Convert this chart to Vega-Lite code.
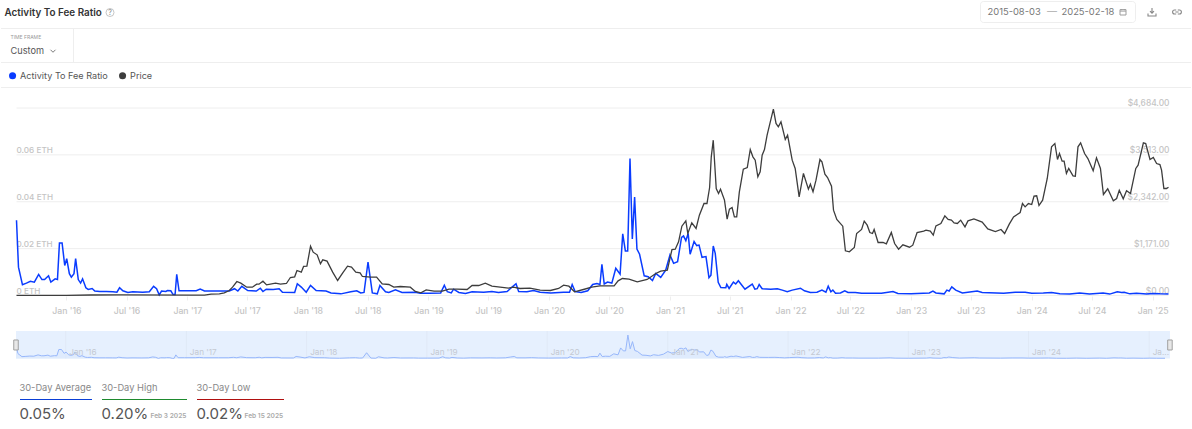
{
"$schema":"https://vega.github.io/schema/vega-lite/v6.json",
"padding":0,"background":"white","autosize":{"type":"pad"},"bounds":"flush","spacing":0,
"config":{"view":{"stroke":null},"text":{"font":"Inter"},"axis":{"labelFont":"Inter"},"legend":{"labelFont":"Inter"}},
"datasets":{
"ratio":[
{"d":"2015-08-03","v":0.0321},{"d":"2015-08-09","v":0.0121},{"d":"2015-08-21","v":0.0046},{"d":"2015-09-02","v":0.0053},{"d":"2015-09-14","v":0.0061},{"d":"2015-09-26","v":0.0057},{"d":"2015-10-09","v":0.009},{"d":"2015-10-19","v":0.0068},{"d":"2015-10-27","v":0.0068},{"d":"2015-11-08","v":0.0084},{"d":"2015-11-15","v":0.0057},{"d":"2015-11-28","v":0.0071},{"d":"2015-12-05","v":0.0068},{"d":"2015-12-11","v":0.0224},{"d":"2015-12-19","v":0.0224},{"d":"2015-12-27","v":0.0128},{"d":"2016-01-02","v":0.0157},{"d":"2016-01-10","v":0.0093},{"d":"2016-01-16","v":0.0078},{"d":"2016-01-24","v":0.0093},{"d":"2016-01-29","v":0.0157},{"d":"2016-02-06","v":0.0068},{"d":"2016-02-13","v":0.0053},{"d":"2016-02-19","v":0.0071},{"d":"2016-02-29","v":0.0033},{"d":"2016-03-07","v":0.0026},{"d":"2016-03-19","v":0.003},{"d":"2016-03-27","v":0.0019},{"d":"2016-04-11","v":0.0017},{"d":"2016-05-01","v":0.0017},{"d":"2016-05-21","v":0.0016},{"d":"2016-06-02","v":0.0014},{"d":"2016-06-10","v":0.0033},{"d":"2016-06-20","v":0.002},{"d":"2016-07-05","v":0.0013},{"d":"2016-07-20","v":0.0016},{"d":"2016-08-19","v":0.0014},{"d":"2016-09-08","v":0.0016},{"d":"2016-09-21","v":0.0039},{"d":"2016-09-30","v":0.0029},{"d":"2016-10-08","v":0.0003},{"d":"2016-10-15","v":0.0019},{"d":"2016-10-28","v":0.0017},{"d":"2016-11-02","v":0.0021},{"d":"2016-11-12","v":0.002},{"d":"2016-11-19","v":0.0004},{"d":"2016-11-25","v":0.0004},{"d":"2016-11-30","v":0.009},{"d":"2016-12-07","v":0.002},{"d":"2016-12-27","v":0.002},{"d":"2017-01-28","v":0.002},{"d":"2017-02-09","v":0.0027},{"d":"2017-02-22","v":0.0019},{"d":"2017-04-08","v":0.0019},{"d":"2017-05-08","v":0.0019},{"d":"2017-05-24","v":0.0029},{"d":"2017-06-03","v":0.0019},{"d":"2017-06-15","v":0.0039},{"d":"2017-07-03","v":0.0021},{"d":"2017-07-29","v":0.0019},{"d":"2017-08-10","v":0.0031},{"d":"2017-08-18","v":0.0017},{"d":"2017-08-28","v":0.0027},{"d":"2017-09-18","v":0.0026},{"d":"2017-10-06","v":0.0029},{"d":"2017-10-16","v":0.0014},{"d":"2017-11-22","v":0.0013},{"d":"2017-11-30","v":0.005},{"d":"2017-12-12","v":0.0036},{"d":"2017-12-27","v":0.0014},{"d":"2018-01-09","v":0.0043},{"d":"2018-01-26","v":0.0021},{"d":"2018-02-25","v":0.0019},{"d":"2018-03-12","v":0.0011},{"d":"2018-04-11","v":0.0007},{"d":"2018-05-11","v":0.0016},{"d":"2018-05-29","v":0.002},{"d":"2018-06-10","v":0.0011},{"d":"2018-06-20","v":0.0013},{"d":"2018-07-02","v":0.0143},{"d":"2018-07-15","v":0.0011},{"d":"2018-07-30","v":0.0007},{"d":"2018-08-07","v":0.0043},{"d":"2018-08-24","v":0.0016},{"d":"2018-09-03","v":0.0013},{"d":"2018-09-23","v":0.0024},{"d":"2018-10-13","v":0.0013},{"d":"2018-11-22","v":0.0014},{"d":"2018-12-07","v":0.001},{"d":"2019-01-02","v":0.001},{"d":"2019-02-07","v":0.0011},{"d":"2019-02-18","v":0.0044},{"d":"2019-02-27","v":0.0016},{"d":"2019-03-11","v":0.0011},{"d":"2019-03-18","v":0.0027},{"d":"2019-04-03","v":0.0013},{"d":"2019-04-23","v":0.0009},{"d":"2019-05-13","v":0.0016},{"d":"2019-06-17","v":0.0014},{"d":"2019-07-12","v":0.0017},{"d":"2019-08-01","v":0.0013},{"d":"2019-08-27","v":0.0017},{"d":"2019-09-11","v":0.0036},{"d":"2019-09-23","v":0.005},{"d":"2019-10-01","v":0.0017},{"d":"2019-10-26","v":0.0016},{"d":"2019-11-15","v":0.0021},{"d":"2019-12-05","v":0.0014},{"d":"2020-01-06","v":0.0011},{"d":"2020-02-14","v":0.0014},{"d":"2020-03-03","v":0.0014},{"d":"2020-03-11","v":0.0047},{"d":"2020-03-20","v":0.0017},{"d":"2020-04-07","v":0.0013},{"d":"2020-04-27","v":0.002},{"d":"2020-05-12","v":0.0047},{"d":"2020-05-25","v":0.0051},{"d":"2020-06-03","v":0.0047},{"d":"2020-06-09","v":0.0133},{"d":"2020-06-16","v":0.0049},{"d":"2020-06-26","v":0.0057},{"d":"2020-07-09","v":0.0053},{"d":"2020-07-21","v":0.0116},{"d":"2020-08-03","v":0.0091},{"d":"2020-08-11","v":0.0263},{"d":"2020-08-19","v":0.019},{"d":"2020-08-26","v":0.019},{"d":"2020-09-02","v":0.0584},{"d":"2020-09-09","v":0.0241},{"d":"2020-09-16","v":0.042},{"d":"2020-09-23","v":0.0198},{"d":"2020-10-01","v":0.0176},{"d":"2020-10-15","v":0.0084},{"d":"2020-10-27","v":0.008},{"d":"2020-11-09","v":0.0064},{"d":"2020-11-19","v":0.0094},{"d":"2020-12-04","v":0.0077},{"d":"2020-12-19","v":0.0108},{"d":"2021-01-01","v":0.0173},{"d":"2021-01-12","v":0.0137},{"d":"2021-01-24","v":0.0144},{"d":"2021-02-05","v":0.0248},{"d":"2021-02-11","v":0.0254},{"d":"2021-02-18","v":0.0234},{"d":"2021-02-25","v":0.0265},{"d":"2021-03-03","v":0.0176},{"d":"2021-03-15","v":0.023},{"d":"2021-03-23","v":0.0213},{"d":"2021-03-30","v":0.0215},{"d":"2021-04-08","v":0.0163},{"d":"2021-04-20","v":0.0166},{"d":"2021-04-29","v":0.0076},{"d":"2021-05-05","v":0.0087},{"d":"2021-05-12","v":0.0211},{"d":"2021-05-18","v":0.018},{"d":"2021-05-27","v":0.0056},{"d":"2021-06-04","v":0.0034},{"d":"2021-06-19","v":0.0033},{"d":"2021-06-22","v":0.0047},{"d":"2021-06-29","v":0.003},{"d":"2021-07-12","v":0.0057},{"d":"2021-07-19","v":0.0049},{"d":"2021-07-27","v":0.0063},{"d":"2021-08-16","v":0.0027},{"d":"2021-09-07","v":0.0049},{"d":"2021-09-15","v":0.0027},{"d":"2021-09-22","v":0.0029},{"d":"2021-09-28","v":0.0047},{"d":"2021-10-07","v":0.0029},{"d":"2021-11-02","v":0.0027},{"d":"2021-11-22","v":0.0029},{"d":"2021-12-07","v":0.0023},{"d":"2021-12-22","v":0.0016},{"d":"2022-01-06","v":0.0023},{"d":"2022-01-31","v":0.0031},{"d":"2022-02-12","v":0.002},{"d":"2022-03-02","v":0.0013},{"d":"2022-03-22","v":0.0014},{"d":"2022-04-06","v":0.0023},{"d":"2022-04-18","v":0.0014},{"d":"2022-04-25","v":0.004},{"d":"2022-05-03","v":0.0016},{"d":"2022-05-09","v":0.0023},{"d":"2022-05-17","v":0.001},{"d":"2022-06-01","v":0.0011},{"d":"2022-06-14","v":0.002},{"d":"2022-06-24","v":0.0013},{"d":"2022-07-16","v":0.0013},{"d":"2022-08-04","v":0.001},{"d":"2022-10-03","v":0.001},{"d":"2022-11-07","v":0.0017},{"d":"2022-11-22","v":0.0009},{"d":"2023-01-01","v":0.0007},{"d":"2023-02-25","v":0.0011},{"d":"2023-03-08","v":0.0019},{"d":"2023-03-17","v":0.0011},{"d":"2023-04-11","v":0.0007},{"d":"2023-04-19","v":0.0023},{"d":"2023-04-26","v":0.0019},{"d":"2023-05-04","v":0.0037},{"d":"2023-05-16","v":0.0023},{"d":"2023-06-05","v":0.0011},{"d":"2023-07-20","v":0.0019},{"d":"2023-08-04","v":0.0013},{"d":"2023-10-08","v":0.001},{"d":"2023-11-12","v":0.0014},{"d":"2023-12-12","v":0.0014},{"d":"2024-01-01","v":0.001},{"d":"2024-02-05","v":0.0011},{"d":"2024-03-01","v":0.0013},{"d":"2024-03-26","v":0.0007},{"d":"2024-04-25","v":0.0006},{"d":"2024-05-25","v":0.0011},{"d":"2024-06-24","v":0.0006},{"d":"2024-08-04","v":0.0011},{"d":"2024-08-24","v":0.0006},{"d":"2024-09-16","v":0.0016},{"d":"2024-09-29","v":0.0013},{"d":"2024-10-07","v":0.0014},{"d":"2024-10-24","v":0.0007},{"d":"2024-11-13","v":0.001},{"d":"2024-12-14","v":0.0006},{"d":"2025-01-03","v":0.0009},{"d":"2025-01-23","v":0.0007},{"d":"2025-02-18","v":0.0006}
],
"price":[
{"d":"2015-08-03","v":1},{"d":"2016-01-01","v":1},{"d":"2016-03-15","v":12},{"d":"2016-06-15","v":15},{"d":"2017-01-15","v":10},{"d":"2017-02-22","v":10},{"d":"2017-03-14","v":33},{"d":"2017-04-08","v":42},{"d":"2017-04-23","v":67},{"d":"2017-05-08","v":125},{"d":"2017-05-18","v":208},{"d":"2017-05-31","v":350},{"d":"2017-06-12","v":308},{"d":"2017-06-30","v":208},{"d":"2017-07-17","v":208},{"d":"2017-07-30","v":283},{"d":"2017-08-06","v":283},{"d":"2017-08-18","v":358},{"d":"2017-08-29","v":266},{"d":"2017-09-25","v":308},{"d":"2017-10-10","v":283},{"d":"2017-10-28","v":300},{"d":"2017-11-09","v":450},{"d":"2017-11-22","v":466},{"d":"2017-11-29","v":625},{"d":"2017-12-12","v":583},{"d":"2017-12-19","v":725},{"d":"2017-12-29","v":733},{"d":"2018-01-09","v":1232},{"d":"2018-01-17","v":1082},{"d":"2018-01-29","v":1016},{"d":"2018-02-08","v":791},{"d":"2018-02-15","v":891},{"d":"2018-02-28","v":858},{"d":"2018-03-17","v":583},{"d":"2018-04-01","v":375},{"d":"2018-04-16","v":558},{"d":"2018-05-01","v":733},{"d":"2018-05-13","v":708},{"d":"2018-05-26","v":583},{"d":"2018-06-08","v":566},{"d":"2018-06-15","v":475},{"d":"2018-07-10","v":458},{"d":"2018-07-28","v":458},{"d":"2018-08-14","v":291},{"d":"2018-09-03","v":275},{"d":"2018-09-18","v":208},{"d":"2018-10-08","v":225},{"d":"2018-11-07","v":208},{"d":"2018-11-22","v":100},{"d":"2018-12-09","v":67},{"d":"2018-12-25","v":141},{"d":"2019-01-18","v":108},{"d":"2019-02-12","v":108},{"d":"2019-03-04","v":158},{"d":"2019-03-29","v":158},{"d":"2019-04-28","v":150},{"d":"2019-05-13","v":250},{"d":"2019-06-02","v":250},{"d":"2019-06-22","v":308},{"d":"2019-07-12","v":233},{"d":"2019-08-06","v":208},{"d":"2019-08-31","v":183},{"d":"2019-09-15","v":208},{"d":"2019-10-05","v":175},{"d":"2019-11-04","v":183},{"d":"2019-12-05","v":133},{"d":"2020-01-05","v":125},{"d":"2020-01-30","v":175},{"d":"2020-02-14","v":258},{"d":"2020-03-01","v":233},{"d":"2020-03-18","v":92},{"d":"2020-04-14","v":150},{"d":"2020-05-09","v":208},{"d":"2020-06-03","v":240},{"d":"2020-07-16","v":241},{"d":"2020-07-28","v":366},{"d":"2020-08-10","v":425},{"d":"2020-08-30","v":408},{"d":"2020-09-24","v":341},{"d":"2020-10-24","v":400},{"d":"2020-11-19","v":550},{"d":"2020-12-04","v":608},{"d":"2020-12-24","v":633},{"d":"2021-01-07","v":1149},{"d":"2021-01-17","v":1157},{"d":"2021-01-27","v":1341},{"d":"2021-02-06","v":1732},{"d":"2021-02-18","v":1865},{"d":"2021-02-24","v":1549},{"d":"2021-03-08","v":1815},{"d":"2021-03-21","v":1674},{"d":"2021-03-31","v":2007},{"d":"2021-04-14","v":2298},{"d":"2021-04-23","v":2298},{"d":"2021-05-01","v":2698},{"d":"2021-05-06","v":3464},{"d":"2021-05-12","v":3880},{"d":"2021-05-21","v":2673},{"d":"2021-05-28","v":2548},{"d":"2021-06-03","v":2656},{"d":"2021-06-15","v":2382},{"d":"2021-06-23","v":1907},{"d":"2021-06-30","v":2157},{"d":"2021-07-08","v":2198},{"d":"2021-07-15","v":1965},{"d":"2021-07-22","v":1965},{"d":"2021-07-30","v":2590},{"d":"2021-08-11","v":3156},{"d":"2021-08-23","v":3198},{"d":"2021-09-01","v":3647},{"d":"2021-09-09","v":3464},{"d":"2021-09-16","v":3381},{"d":"2021-09-24","v":2965},{"d":"2021-10-01","v":3090},{"d":"2021-10-07","v":3506},{"d":"2021-10-14","v":3647},{"d":"2021-10-22","v":4005},{"d":"2021-11-10","v":4655},{"d":"2021-11-18","v":4297},{"d":"2021-11-25","v":4213},{"d":"2021-12-03","v":4338},{"d":"2021-12-16","v":3897},{"d":"2021-12-23","v":4005},{"d":"2022-01-06","v":3381},{"d":"2022-01-15","v":3173},{"d":"2022-01-27","v":2465},{"d":"2022-02-09","v":3048},{"d":"2022-02-24","v":2656},{"d":"2022-03-02","v":2781},{"d":"2022-03-10","v":2590},{"d":"2022-03-19","v":2881},{"d":"2022-03-31","v":3397},{"d":"2022-04-06","v":3339},{"d":"2022-04-15","v":3031},{"d":"2022-04-23","v":2948},{"d":"2022-05-05","v":2731},{"d":"2022-05-11","v":2132},{"d":"2022-05-21","v":1899},{"d":"2022-06-08","v":1732},{"d":"2022-06-16","v":1116},{"d":"2022-06-28","v":1091},{"d":"2022-07-13","v":1199},{"d":"2022-07-20","v":1549},{"d":"2022-08-04","v":1649},{"d":"2022-08-12","v":1857},{"d":"2022-08-21","v":1757},{"d":"2022-08-29","v":1574},{"d":"2022-09-06","v":1549},{"d":"2022-09-11","v":1649},{"d":"2022-09-23","v":1324},{"d":"2022-10-08","v":1324},{"d":"2022-10-18","v":1291},{"d":"2022-11-02","v":1574},{"d":"2022-11-12","v":1299},{"d":"2022-11-24","v":1157},{"d":"2022-12-07","v":1266},{"d":"2022-12-27","v":1207},{"d":"2023-01-06","v":1257},{"d":"2023-01-19","v":1574},{"d":"2023-02-08","v":1607},{"d":"2023-02-15","v":1632},{"d":"2023-02-28","v":1607},{"d":"2023-03-09","v":1507},{"d":"2023-03-17","v":1740},{"d":"2023-04-01","v":1799},{"d":"2023-04-13","v":1990},{"d":"2023-04-23","v":1899},{"d":"2023-05-03","v":1882},{"d":"2023-05-11","v":1815},{"d":"2023-05-21","v":1799},{"d":"2023-05-31","v":1882},{"d":"2023-06-13","v":1715},{"d":"2023-06-22","v":1865},{"d":"2023-07-10","v":1915},{"d":"2023-08-04","v":1832},{"d":"2023-08-21","v":1665},{"d":"2023-09-13","v":1599},{"d":"2023-09-30","v":1649},{"d":"2023-10-11","v":1549},{"d":"2023-10-25","v":1782},{"d":"2023-11-07","v":1965},{"d":"2023-11-27","v":2073},{"d":"2023-12-04","v":2298},{"d":"2023-12-12","v":2215},{"d":"2023-12-22","v":2298},{"d":"2024-01-01","v":2273},{"d":"2024-01-08","v":2481},{"d":"2024-01-16","v":2490},{"d":"2024-01-23","v":2248},{"d":"2024-02-03","v":2382},{"d":"2024-02-17","v":2923},{"d":"2024-03-01","v":3714},{"d":"2024-03-11","v":3797},{"d":"2024-03-19","v":3397},{"d":"2024-03-25","v":3547},{"d":"2024-04-02","v":3356},{"d":"2024-04-08","v":3356},{"d":"2024-04-15","v":3048},{"d":"2024-04-22","v":3173},{"d":"2024-05-05","v":2989},{"d":"2024-05-12","v":2981},{"d":"2024-05-20","v":3714},{"d":"2024-05-28","v":3814},{"d":"2024-06-09","v":3547},{"d":"2024-06-19","v":3422},{"d":"2024-07-05","v":3114},{"d":"2024-07-15","v":3439},{"d":"2024-07-27","v":3173},{"d":"2024-08-05","v":2523},{"d":"2024-08-18","v":2665},{"d":"2024-09-04","v":2365},{"d":"2024-09-14","v":2423},{"d":"2024-09-22","v":2631},{"d":"2024-10-04","v":2415},{"d":"2024-10-14","v":2615},{"d":"2024-10-26","v":2548},{"d":"2024-11-11","v":3173},{"d":"2024-11-18","v":3256},{"d":"2024-12-04","v":3814},{"d":"2024-12-11","v":3797},{"d":"2024-12-24","v":3397},{"d":"2025-01-03","v":3447},{"d":"2025-01-13","v":3297},{"d":"2025-01-23","v":3272},{"d":"2025-01-28","v":3131},{"d":"2025-02-04","v":2673},{"d":"2025-02-12","v":2673},{"d":"2025-02-18","v":2706}
],
"jans":[{"d":"2016-01-01"},{"d":"2017-01-01"},{"d":"2018-01-01"},{"d":"2019-01-01"},{"d":"2020-01-01"},{"d":"2021-01-01"},{"d":"2022-01-01"},{"d":"2023-01-01"},{"d":"2024-01-01"},{"d":"2025-01-01"}]
},
"vconcat":[
{"width":1192,"height":88,"layer":[
{"data":{"values":[{"t":"Activity To Fee Ratio"}]},"mark":{"type":"text","fontSize":9.9,"fontWeight":600,"color":"#333","align":"left"},"encoding":{"text":{"field":"t"},"x":{"datum":3.5,"type":"quantitative","scale":{"domain":[0,1192],"range":[0,1192],"nice":false,"zero":false},"axis":null},"y":{"datum":13,"type":"quantitative","scale":{"domain":[0,88],"range":[0,88],"nice":false,"zero":false},"axis":null}}},
{"data":{"values":[{"t":"?"}]},"mark":{"type":"text","fontSize":7,"color":"#888"},"encoding":{"text":{"field":"t"},"x":{"datum":109},"y":{"datum":12.5}}},
{"data":{"values":[{"t":"icon"}]},"mark":{"type":"point","shape":"circle","size":64,"stroke":"#999","strokeWidth":0.8,"filled":false},"encoding":{"x":{"datum":109},"y":{"datum":12.5}}},
{"data":{"values":[{"t":"TIME FRAME"}]},"mark":{"type":"text","fontSize":5,"color":"#999","align":"left"},"encoding":{"text":{"field":"t"},"x":{"datum":9.5},"y":{"datum":37}}},
{"data":{"values":[{"t":"Custom"}]},"mark":{"type":"text","fontSize":9.2,"color":"#555","align":"left"},"encoding":{"text":{"field":"t"},"x":{"datum":9.5},"y":{"datum":51}}},
{"data":{"values":[{"t":"chevron"}]},"mark":{"type":"point","shape":"M-1,-0.5L0,0.5L1,-0.5","size":25,"stroke":"#444","strokeWidth":1,"filled":false},"encoding":{"x":{"datum":52},"y":{"datum":51}}},
{"data":{"values":[{"t":"box"}]},"mark":{"type":"rect","fill":"white","stroke":"#eeeeee","cornerRadius":3},"encoding":{"x":{"datum":979.5},"x2":{"datum":1134.5},"y":{"datum":1.5},"y2":{"datum":22.5}}},
{"data":{"values":[{"t":"2015-08-03"}]},"mark":{"type":"text","fontSize":9.4,"color":"#777","align":"left"},"encoding":{"text":{"field":"t"},"x":{"datum":986.5},"y":{"datum":12}}},
{"data":{"values":[{"t":"—"}]},"mark":{"type":"text","fontSize":10,"color":"#aaa","align":"left"},"encoding":{"text":{"field":"t"},"x":{"datum":1046},"y":{"datum":12}}},
{"data":{"values":[{"t":"2025-02-18"}]},"mark":{"type":"text","fontSize":9.4,"color":"#777","align":"left"},"encoding":{"text":{"field":"t"},"x":{"datum":1060.5},"y":{"datum":12}}},
{"data":{"values":[{"t":"calendar"}]},"mark":{"type":"point","shape":"M-1,-0.8H1V1H-1ZM-1,-0.3H1M-0.5,-1V-0.6M0.5,-1V-0.6","size":36,"stroke":"#777","strokeWidth":1,"filled":false},"encoding":{"x":{"datum":1122},"y":{"datum":12}}},
{"data":{"values":[{"t":"download"}]},"mark":{"type":"point","shape":"M0,-1V0.3M-0.5,-0.2L0,0.3L0.5,-0.2M-1,0.4V1H1V0.4","size":64,"stroke":"#555","strokeWidth":1.1,"filled":false},"encoding":{"x":{"datum":1151},"y":{"datum":12}}},
{"data":{"values":[{"t":"link"}]},"mark":{"type":"point","shape":"M-0.2,-0.5H-0.6A0.5,0.5 0 0 0 -0.6,0.5H-0.2M0.2,-0.5H0.6A0.5,0.5 0 0 1 0.6,0.5H0.2M-0.4,0H0.4","size":64,"stroke":"#555","strokeWidth":1.1,"filled":false},"encoding":{"x":{"datum":1176},"y":{"datum":12}}},
{"data":{"values":[{"t":"a"}]},"mark":{"type":"rule","stroke":"#eeeeee"},"encoding":{"x":{"datum":0},"x2":{"datum":1190},"y":{"datum":28.5}}},
{"data":{"values":[{"t":"b"}]},"mark":{"type":"rule","stroke":"#eeeeee"},"encoding":{"x":{"datum":0},"x2":{"datum":1190},"y":{"datum":62.5}}},
{"data":{"values":[{"t":"c"}]},"mark":{"type":"rule","stroke":"#eeeeee"},"encoding":{"x":{"datum":0},"x2":{"datum":1190},"y":{"datum":87.5}}},
{"data":{"values":[{"t":"d"}]},"mark":{"type":"rule","stroke":"#eeeeee"},"encoding":{"x":{"datum":72.5},"y":{"datum":28.5},"y2":{"datum":62.5}}}
]},
{"width":1192,"height":208,"resolve":{"scale":{"y":"independent"}},"layer":[
{"data":{"values":[{"tick":0,"from":"2015-08-03","to":"2025-02-18"},{"tick":1171,"from":"2015-08-03","to":"2025-02-18"},{"tick":2342,"from":"2015-08-03","to":"2025-02-18"},{"tick":3513,"from":"2015-08-03","to":"2025-02-18"},{"tick":4684,"from":"2015-08-03","to":"2025-02-18"}]},
"mark":{"type":"rule","stroke":"#eeeeee","strokeWidth":1},
"encoding":{"x":{"field":"from","type":"temporal","scale":{"type":"utc","domain":["2015-08-03","2025-02-18"],"range":[15.5,1167.5],"nice":false},
"axis":{"title":null,"values":["2016-01-01","2016-07-01","2017-01-01","2017-07-01","2018-01-01","2018-07-01","2019-01-01","2019-07-01","2020-01-01","2020-07-01","2021-01-01","2021-07-01","2022-01-01","2022-07-01","2023-01-01","2023-07-01","2024-01-01","2024-07-01","2025-01-01"],"labelExpr":"utcFormat(datum.value,\"%b '%y\")","domain":false,"grid":false,"tickColor":"#eeeeee","tickSize":4,"labelColor":"#c4c4c4","labelFontSize":8.7,"labelFontWeight":500,"labelPadding":6,"labelOverlap":false,"labelFlush":false}},
"x2":{"field":"to"},"y":{"field":"tick","type":"quantitative","scale":{"domain":[0,4684],"range":[207.5,20],"nice":false,"zero":false},"axis":null}}},
{"data":{"name":"ratio"},"mark":{"type":"line","strokeWidth":1.5,"interpolate":"linear"},
"encoding":{"x":{"field":"d","type":"temporal"},"y":{"field":"v","type":"quantitative","scale":{"domain":[0,0.08],"range":[207.5,20],"nice":false,"zero":false},
"axis":{"orient":"left","title":null,"offset":-15,"values":[0,0.02,0.04,0.06],"labelExpr":"format(datum.value,'.2~f')+' ETH'","labelAlign":"left","labelBaseline":"bottom","labelPadding":0,"labelOffset":0,"ticks":false,"domain":false,"grid":false,"labelColor":"#c4c4c4","labelFontSize":8.2,"labelFontWeight":500}},
"color":{"datum":"Activity To Fee Ratio","scale":{"domain":["Activity To Fee Ratio","Price"],"range":["#0a3cff","#3d3d3d"]},
"legend":{"title":null,"orient":"none","legendX":7,"legendY":71,"direction":"horizontal","symbolType":"circle","symbolSize":50,"symbolStrokeWidth":0,"labelColor":"#555","labelFontSize":9.1,"labelOffset":3,"columnPadding":10,"encode":{"symbols":{"update":{"fill":{"scale":"color","field":"value"},"stroke":{"value":"transparent"}}}}}}}},
{"data":{"name":"price"},"mark":{"type":"line","strokeWidth":1.3,"interpolate":"linear"},
"encoding":{"x":{"field":"d","type":"temporal"},"y":{"field":"v","type":"quantitative","scale":{"domain":[0,4684],"range":[207.5,20],"nice":false,"zero":false},
"axis":{"orient":"right","title":null,"offset":-24,"values":[0,1171,2342,3513,4684],"format":"$,.2f","labelAlign":"right","labelBaseline":"bottom","labelPadding":0,"labelOffset":-0.5,"ticks":false,"domain":false,"grid":false,"labelColor":"#c4c4c4","labelFontSize":8.4,"labelFontWeight":500}},
"color":{"datum":"Price"}}}
]},
{"width":1192,"height":76,"layer":[
{"data":{"values":[{"from":"2015-08-03","to":"2025-03-05","lo":0,"hi":0.0684}]},"mark":{"type":"rect","fill":"#e6f0fe"},
"encoding":{"x":{"field":"from","type":"temporal","scale":{"type":"utc","domain":["2015-08-03","2025-02-18"],"range":[15,1164],"nice":false},
"axis":{"title":null,"orient":"bottom","offset":-24,"zindex":1,"values":["2016-01-01","2017-01-01","2018-01-01","2019-01-01","2020-01-01","2021-01-01","2022-01-01","2023-01-01","2024-01-01","2025-01-01"],"labelExpr":"utcFormat(datum.value,'%Y')=='2025'?'Ja...':utcFormat(datum.value,\"%b '%y\")","domain":false,"ticks":false,"grid":false,"labelAlign":"left","labelOffset":3,"labelPadding":0,"labelBaseline":"top","labelColor":"#c4c9d2","labelFontSize":8.2,"labelOverlap":false,"labelFlush":false}},
"x2":{"field":"to"},"y":{"field":"lo","type":"quantitative","scale":{"domain":[0,0.0684],"range":[62.5,35],"nice":false,"zero":false},"axis":null},"y2":{"field":"hi"}}},
{"data":{"name":"jans"},"mark":{"type":"rule","stroke":"#e0e9f6","strokeWidth":1},"encoding":{"x":{"field":"d","type":"temporal"},"y":{"datum":0},"y2":{"datum":0.0684}}},
{"data":{"name":"ratio"},"mark":{"type":"area","fill":"#dbe8fc","opacity":0.7},"encoding":{"x":{"field":"d","type":"temporal"},"y":{"field":"v","type":"quantitative"}}},
{"data":{"name":"ratio"},"mark":{"type":"line","stroke":"#97b7fb","strokeWidth":1},"encoding":{"x":{"field":"d","type":"temporal"},"y":{"field":"v","type":"quantitative"}}},
{"data":{"values":[{"d":"2015-08-03"},{"d":"2025-03-05"}]},"mark":{"type":"point","shape":"M-0.45,-1H0.45V1H-0.45Z","size":100,"fill":"#e8e8e8","stroke":"#a0a0a0","strokeWidth":1,"filled":true,"opacity":1},"encoding":{"x":{"field":"d","type":"temporal"},"y":{"datum":0.0336}}}
]},
{"width":1192,"height":57,"layer":[
{"data":{"values":[{"t":"30-Day Average"}]},"mark":{"type":"text","fontSize":9.3,"color":"#888","align":"left"},"encoding":{"text":{"field":"t"},"x":{"datum":18.5,"type":"quantitative","scale":{"domain":[0,1192],"range":[0,1192],"nice":false,"zero":false},"axis":null},"y":{"datum":16,"type":"quantitative","scale":{"domain":[0,57],"range":[0,57],"nice":false,"zero":false},"axis":null}}},
{"data":{"values":[{"t":"30-Day High"}]},"mark":{"type":"text","fontSize":9.3,"color":"#888","align":"left"},"encoding":{"text":{"field":"t"},"x":{"datum":100.5},"y":{"datum":16}}},
{"data":{"values":[{"t":"30-Day Low"}]},"mark":{"type":"text","fontSize":9.3,"color":"#888","align":"left"},"encoding":{"text":{"field":"t"},"x":{"datum":195.5},"y":{"datum":16}}},
{"data":{"values":[{"t":"a"}]},"mark":{"type":"rule","stroke":"#0a3fd6"},"encoding":{"x":{"datum":19},"x2":{"datum":91},"y":{"datum":27.5}}},
{"data":{"values":[{"t":"b"}]},"mark":{"type":"rule","stroke":"#1e8a2e"},"encoding":{"x":{"datum":101},"x2":{"datum":186},"y":{"datum":27.5}}},
{"data":{"values":[{"t":"c"}]},"mark":{"type":"rule","stroke":"#b01010"},"encoding":{"x":{"datum":196},"x2":{"datum":283},"y":{"datum":27.5}}},
{"data":{"values":[{"t":"0.05%"}]},"mark":{"type":"text","fontSize":15,"color":"#555","align":"left"},"encoding":{"text":{"field":"t"},"x":{"datum":18.5},"y":{"datum":42}}},
{"data":{"values":[{"t":"0.20%"}]},"mark":{"type":"text","fontSize":15,"color":"#555","align":"left"},"encoding":{"text":{"field":"t"},"x":{"datum":100.5},"y":{"datum":42}}},
{"data":{"values":[{"t":"0.02%"}]},"mark":{"type":"text","fontSize":15,"color":"#555","align":"left"},"encoding":{"text":{"field":"t"},"x":{"datum":195.5},"y":{"datum":42}}},
{"data":{"values":[{"t":"Feb 3 2025"}]},"mark":{"type":"text","fontSize":6.6,"fontWeight":600,"color":"#aaa","align":"left"},"encoding":{"text":{"field":"t"},"x":{"datum":149.5},"y":{"datum":44}}},
{"data":{"values":[{"t":"Feb 15 2025"}]},"mark":{"type":"text","fontSize":6.6,"fontWeight":600,"color":"#aaa","align":"left"},"encoding":{"text":{"field":"t"},"x":{"datum":243.5},"y":{"datum":44}}}
]}
]
}
